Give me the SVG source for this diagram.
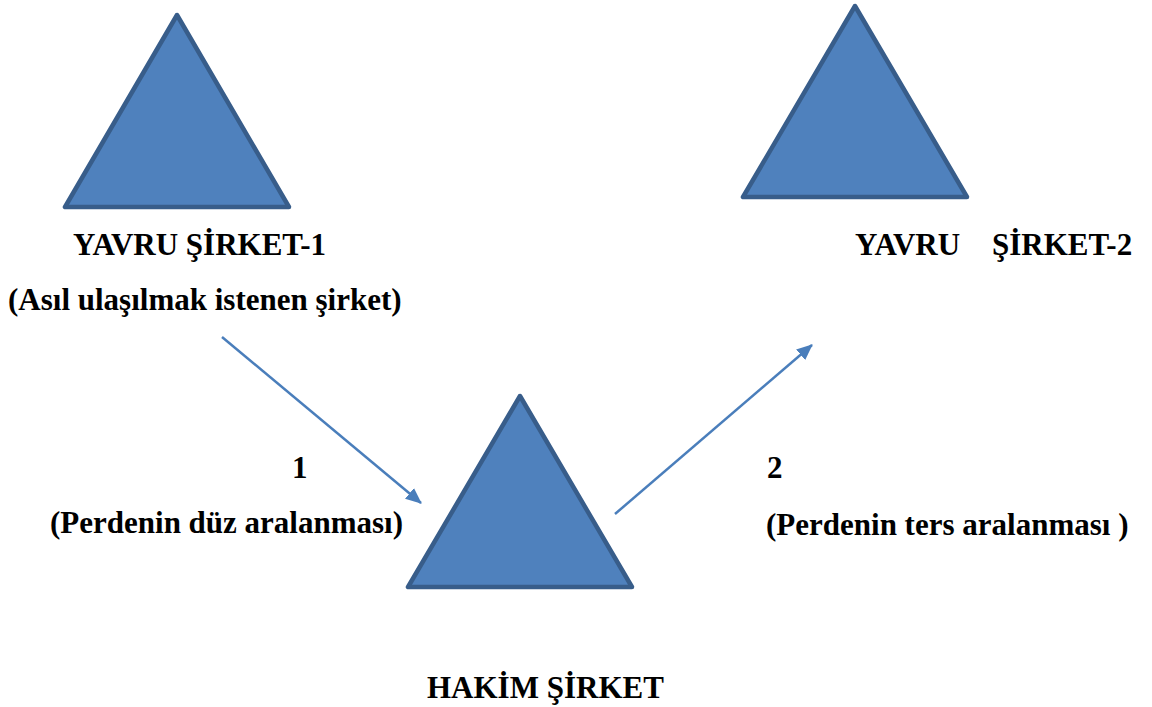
<svg xmlns="http://www.w3.org/2000/svg" width="1152" height="707" viewBox="0 0 1152 707">
<style>
.tri{fill:#4f81bd;stroke:#385d8a;stroke-width:4.5;stroke-linejoin:round}
.conn{stroke:#4a7ebb;stroke-width:2.5;fill:none}
</style>
<defs>
<marker id="ah" markerWidth="16" markerHeight="14" refX="15" refY="7" orient="auto" markerUnits="userSpaceOnUse" viewBox="0 0 16 14">
<path d="M0,0 L16,7 L0,14 z" fill="#4a7ebb"/>
</marker>
</defs>
<rect width="1152" height="707" fill="#fff"/>
<g font-family="Liberation Serif, Times New Roman, Times, serif" font-weight="bold" font-size="31" fill="#000">
<g id="yavru1">
<polygon class="tri" points="177,15 65,207 289,207"/>
<text x="73" y="255">YAVRU ŞİRKET-1</text>
<text x="8" y="310">(Asıl ulaşılmak istenen şirket)</text>
</g>
<g id="yavru2">
<polygon class="tri" points="855,6 743,197 967,197"/>
<text x="855" y="255">YAVRU</text>
<text x="992" y="255">ŞİRKET-2</text>
</g>
<g id="hakim">
<polygon class="tri" points="520,396 408,587 632,587"/>
<text x="427" y="698">HAKİM ŞİRKET</text>
</g>
<g id="connectors">
<line class="conn" x1="222" y1="337" x2="421" y2="503" marker-end="url(#ah)"/>
<line class="conn" x1="615" y1="514" x2="812" y2="345" marker-end="url(#ah)"/>
</g>
<g id="labels">
<text x="292" y="478">1</text>
<text x="50" y="533">(Perdenin düz aralanması)</text>
<text x="767" y="478">2</text>
<text x="766" y="535">(Perdenin ters aralanması )</text>
</g>
</g>
</svg>
